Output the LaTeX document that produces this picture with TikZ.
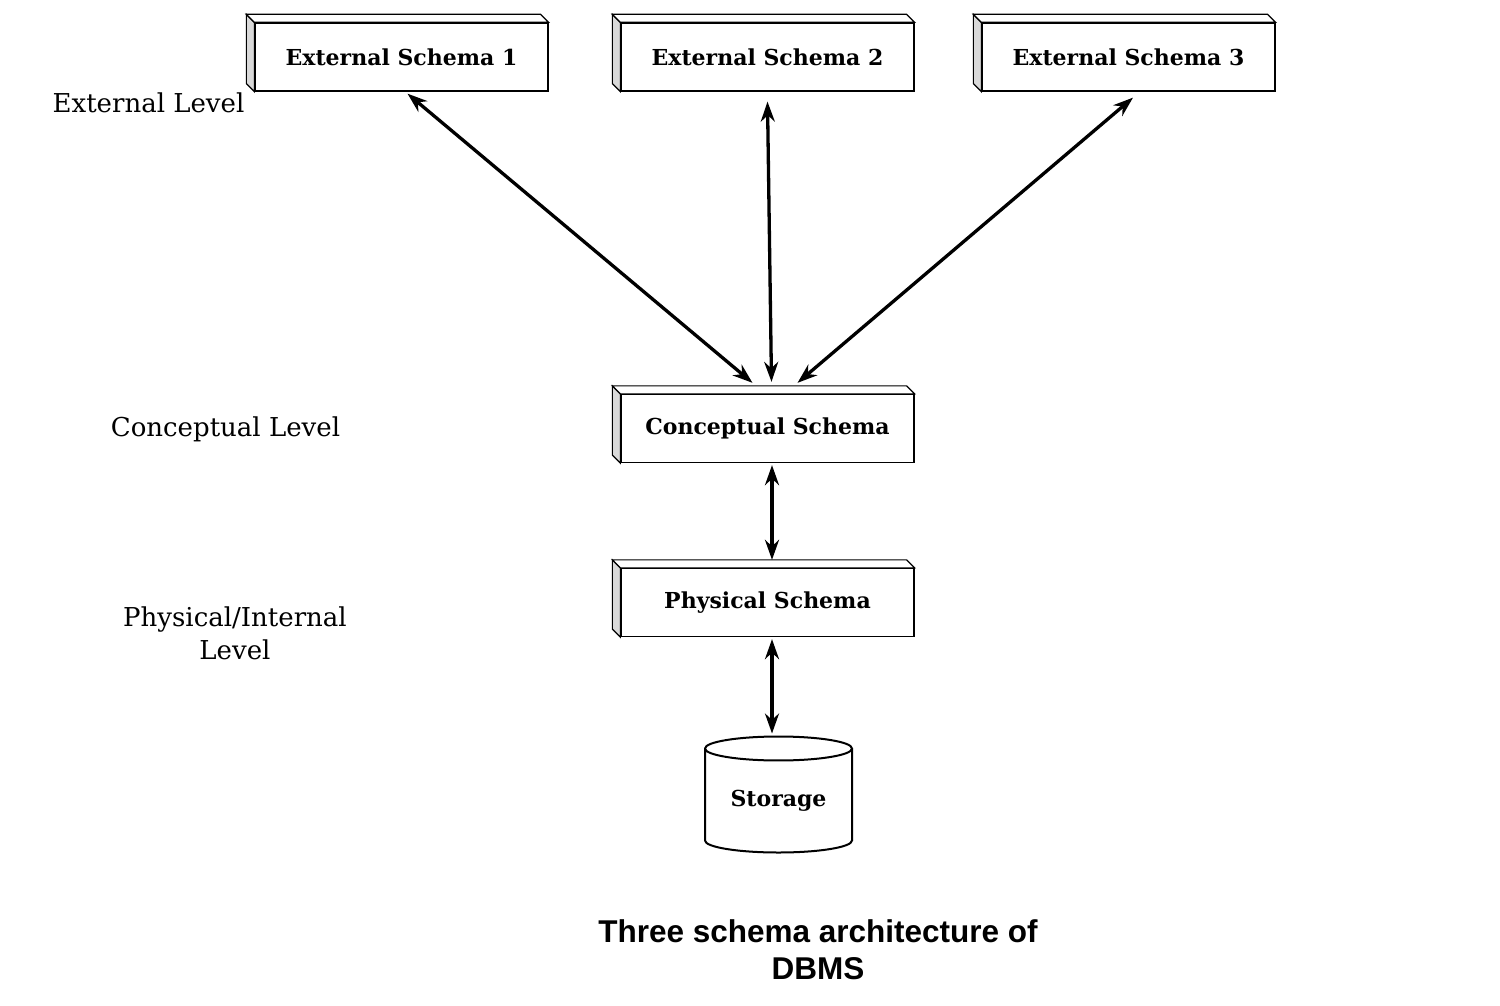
\documentclass[tikz,border=0pt]{standalone}
\usepackage{fontspec}
\setmainfont{DejaVu Serif}
\newfontfamily\titlefont{Liberation Sans}
\usetikzlibrary{arrows.meta,shapes.geometric}
% gray side and top face behind a schema box
\newcommand\bevel[1]{%
  \filldraw[fill=gray!30,line width=1.2pt] (#1.north west) -- ++(-8,-8)
    -- ([shift={(-8,-8)}]#1.south west) -- (#1.south west) -- cycle;
  \filldraw[fill=white,line width=1.2pt] (#1.north west) -- ++(-8,-8)
    -- ([shift={(-8,-8)}]#1.north east) -- (#1.north east) -- cycle;
}
\begin{document}
\begin{tikzpicture}[x=1pt,y=-1pt,
  schemabox/.style={draw,line width=1.3pt,fill=white,minimum width=293pt,
    minimum height=68pt,inner sep=0pt,font=\fontsize{22}{26}\selectfont\bfseries},
  levellabel/.style={align=center,font=\fontsize{26}{33}\selectfont},
  link/.style={{Stealth[length=20pt,width=14pt]}-{Stealth[length=20pt,width=14pt]},line width=3.3pt}]
\useasboundingbox (0,0) rectangle (1500,1006);
\node[schemabox] (es1) at (401.5,57) {External Schema 1};
\node[schemabox] (es2) at (767.5,57) {External Schema 2};
\node[schemabox] (es3) at (1128.5,57) {External Schema 3};
\node[schemabox] (cs) at (767.5,428.5) {Conceptual Schema};
\node[schemabox] (ps) at (767.5,602.5) {Physical Schema};
\bevel{es1}\bevel{es2}\bevel{es3}\bevel{cs}\bevel{ps}
\node[cylinder,shape border rotate=90,draw,line width=2pt,aspect=0.25,
  minimum width=147pt,minimum height=116pt,inner sep=0pt,
  font=\fontsize{22}{26}\selectfont\bfseries] (st) at (778.5,801) {Storage};

\node[levellabel] (extlvl) at (148.5,103) {External Level};
\node[levellabel] (conlvl) at (225.5,429) {Conceptual Level};
\node[levellabel] (phylvl) at (235,633) {Physical/Internal\\Level};

\draw[link] ([shift={(6,2)}]es1.south) -- ([shift={(-15,-11)}]cs.north);
\draw[link] ([shift={(0,10)}]es2.south) -- ([shift={(4,-12)}]cs.north);
\draw[link] ([shift={(4.5,6)}]es3.south) -- ([shift={(30,-11)}]cs.north);
\draw[link] ([shift={(4.5,2)}]cs.south) -- ([shift={(4.5,-8)}]ps.north);
\draw[link] ([shift={(4.5,2)}]ps.south) -- ([shift={(-6.5,-2)}]st.north);

\node[align=center,font=\titlefont\fontsize{31.5}{37}\selectfont\bfseries] (title)
  at (818,950) {Three schema architecture of\\DBMS};
\end{tikzpicture}
\end{document}
